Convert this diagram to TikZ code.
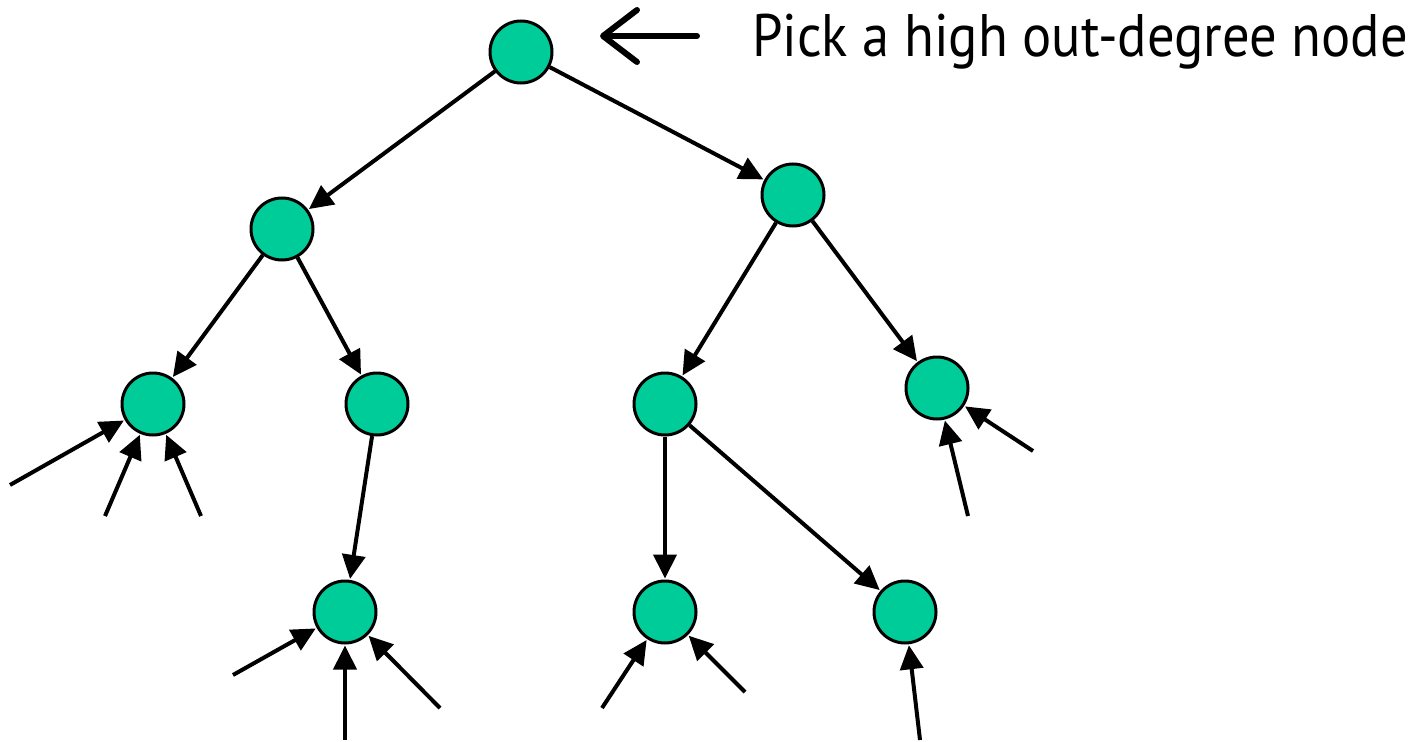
\documentclass[tikz,border=0pt]{standalone}
\usepackage{fontspec}
\setmainfont[FakeStretch=0.91]{PT Sans}
\usetikzlibrary{arrows.meta}
\definecolor{vertexfill}{RGB}{0,204,153}
\tikzset{
  vertex/.style={circle, draw=black, line width=3pt, fill=vertexfill, minimum size=62pt, inner sep=0pt},
  edge/.style={line width=4pt, -{Triangle[length=24pt,width=23pt]}, shorten >=1pt},
  pointer/.style={line width=6pt, line cap=round, -{Straight Barb[length=34pt,width=52pt,line cap=round,line join=round]}},
  caption/.style={font=\fontsize{60}{66}\selectfont, inner sep=0pt, anchor=base west}
}
\begin{document}
\begin{tikzpicture}[x=1pt,y=-1pt]
  \useasboundingbox (0,0) rectangle (1420,741);

  % tree nodes
  \node[vertex] (r)   at (521,52)  {};
  \node[vertex] (a)   at (282,229) {};
  \node[vertex] (b)   at (793,195) {};
  \node[vertex] (aa)  at (153,404) {};
  \node[vertex] (ab)  at (377,404) {};
  \node[vertex] (ba)  at (665,404) {};
  \node[vertex] (bb)  at (937,388) {};
  \node[vertex] (aba) at (345,612) {};
  \node[vertex] (baa) at (665,612) {};
  \node[vertex] (bab) at (905,612) {};

  % tree edges
  \draw[edge] (r) -- (a);
  \draw[edge] (r) -- (b);
  \draw[edge] (a) -- (aa);
  \draw[edge] (a) -- (ab);
  \draw[edge] (b) -- (ba);
  \draw[edge] (b) -- (bb);
  \draw[edge] (ab) -- (aba);
  \draw[edge] (ba) -- (baa);
  \draw[edge] (ba) -- (bab);

  % loose ends of incoming edges
  \coordinate (i1) at (10,485);
  \coordinate (i2) at (105,516);
  \coordinate (i3) at (201,516);
  \coordinate (i4) at (968,516);
  \coordinate (i5) at (1033,451);
  \coordinate (i6) at (233,675);
  \coordinate (i7) at (345,740);
  \coordinate (i8) at (440,708);
  \coordinate (i9) at (602,708);
  \coordinate (i10) at (745,692);
  \coordinate (i11) at (920,740);

  \draw[edge] (i1) -- (aa);
  \draw[edge] (i2) -- (aa);
  \draw[edge] (i3) -- (aa);
  \draw[edge] (i4) -- (bb);
  \draw[edge] (i5) -- (bb);
  \draw[edge] (i6) -- (aba);
  \draw[edge] (i7) -- (aba);
  \draw[edge] (i8) -- (aba);
  \draw[edge] (i9) -- (baa);
  \draw[edge] (i10) -- (baa);
  \draw[edge] (i11) -- (bab);

  % pointer and caption
  \coordinate (p0) at (697,36);
  \coordinate (p1) at (600,36);
  \draw[pointer] (p0) -- (p1);
  \node[caption] (t) at (752,57) {Pick a high out-degree node};
\end{tikzpicture}
\end{document}
